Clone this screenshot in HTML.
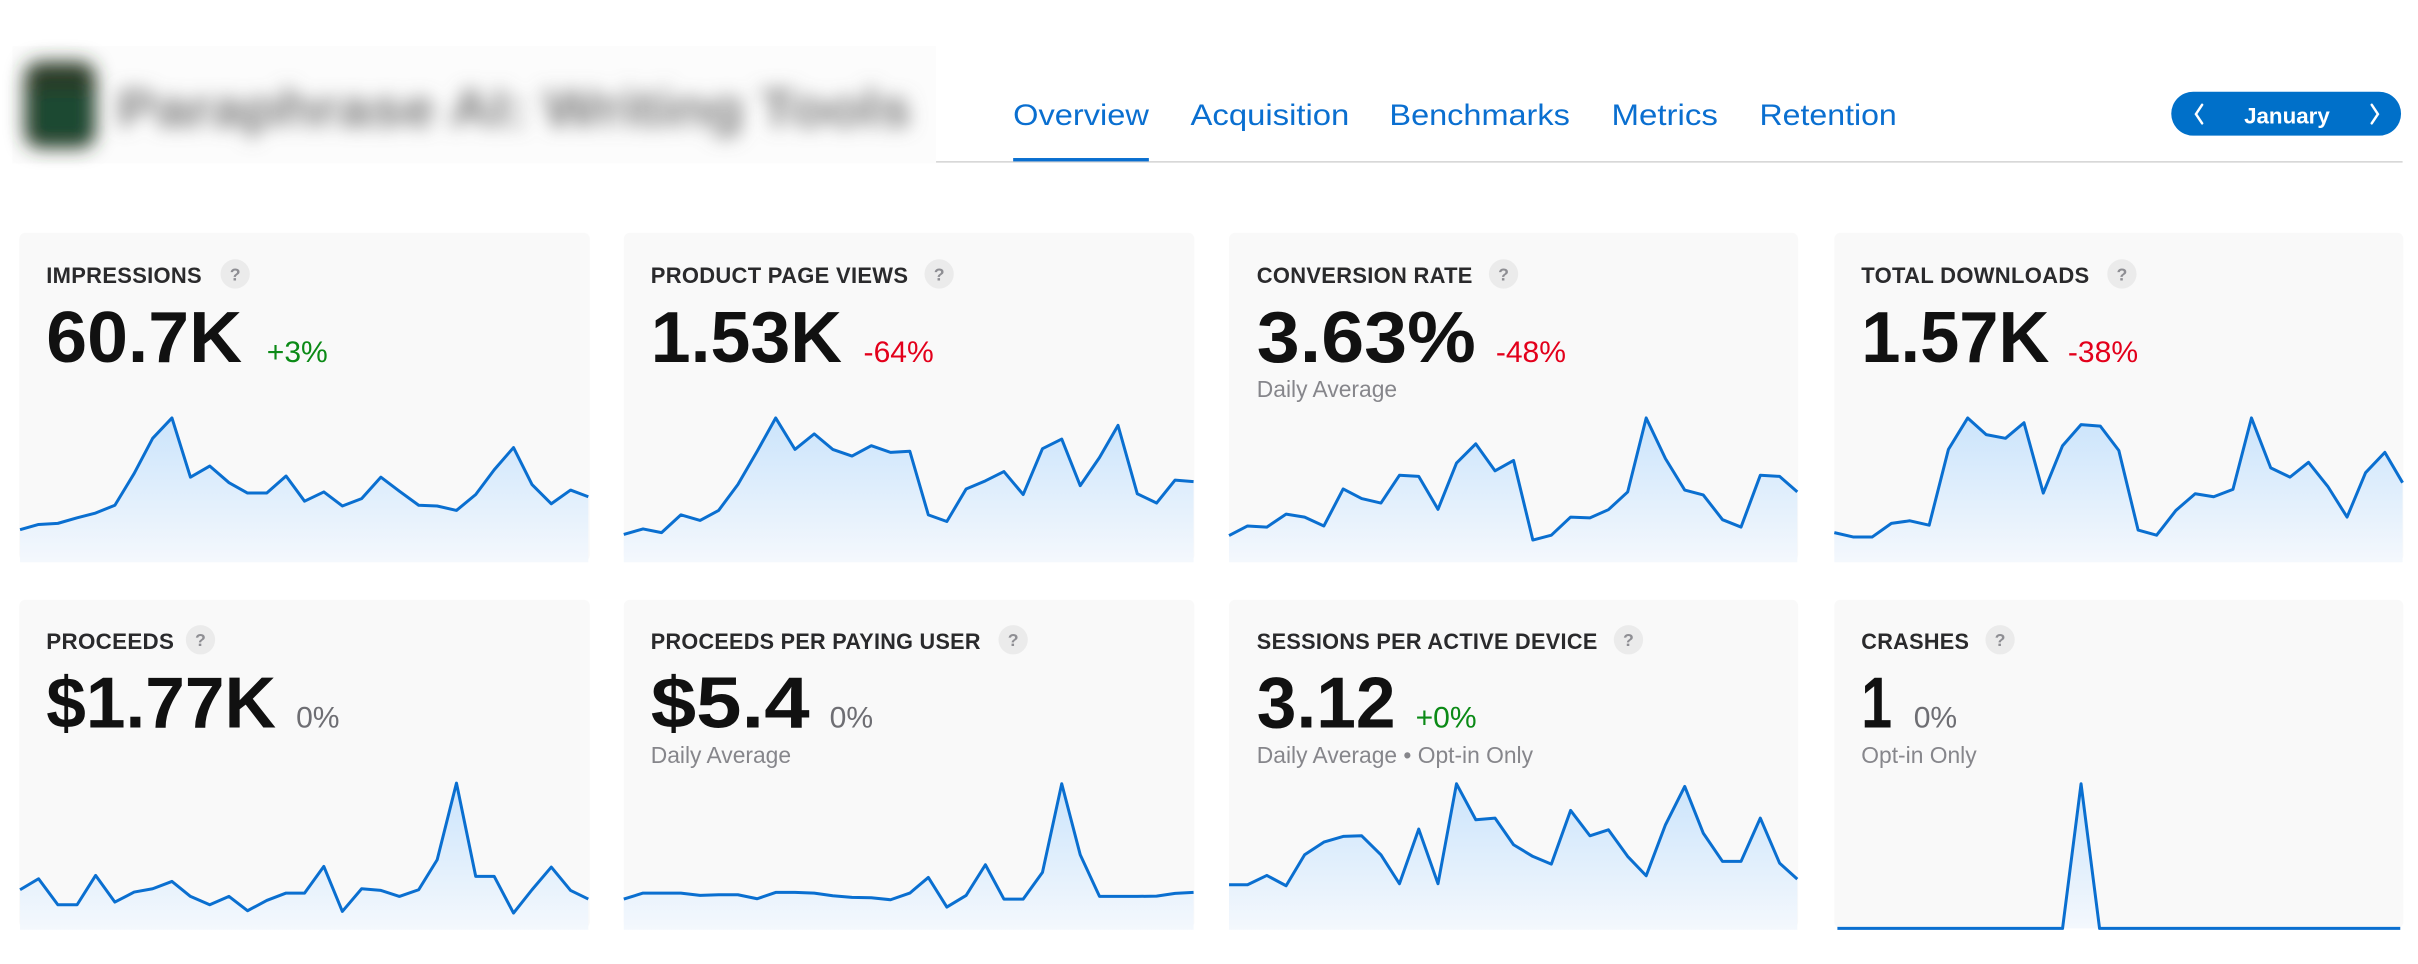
<!DOCTYPE html>
<html><head><meta charset="utf-8"><style>
html,body{margin:0;padding:0;background:#fff;width:2418px;height:964px;overflow:hidden}
svg{display:block}
text{font-family:"Liberation Sans",sans-serif}
</style></head><body>
<svg width="2418" height="964" viewBox="0 0 1568 625.3" preserveAspectRatio="none" xmlns="http://www.w3.org/2000/svg">
<defs>
<linearGradient id="g" x1="0" y1="0" x2="0" y2="1"><stop offset="0" stop-color="#cbe4fb"/><stop offset="1" stop-color="#f4f8fd"/></linearGradient>
<filter id="b" x="-10%" y="-40%" width="120%" height="180%"><feGaussianBlur stdDeviation="6"/></filter>
</defs>
<!-- header -->
<rect x="8" y="30" width="599" height="76" fill="#fcfcfc"/>
<g filter="url(#b)">
<rect x="16" y="40" width="46" height="56" rx="10" fill="#2c3a28"/>
<rect x="22" y="58" width="36" height="32" rx="6" fill="#1f4a30"/>
<text x="76" y="82" font-size="34" font-weight="bold" fill="#7a7a7a" textLength="515" lengthAdjust="spacingAndGlyphs">Paraphrase AI: Writing Tools</text>
</g>
<g font-size="19.5" fill="#0a6fd0">
<text x="657" y="81" textLength="88" lengthAdjust="spacingAndGlyphs">Overview</text>
<text x="772" y="81" textLength="103" lengthAdjust="spacingAndGlyphs">Acquisition</text>
<text x="901" y="81" textLength="117" lengthAdjust="spacingAndGlyphs">Benchmarks</text>
<text x="1045" y="81" textLength="69" lengthAdjust="spacingAndGlyphs">Metrics</text>
<text x="1141" y="81" textLength="89" lengthAdjust="spacingAndGlyphs">Retention</text>
</g>
<rect x="607" y="104.5" width="951" height="1" fill="#d4d4d4"/>
<rect x="657" y="102.5" width="88" height="2.2" fill="#0a6fd0"/>
<rect x="1408" y="59.5" width="149" height="28.5" rx="14.25" fill="#0070c9"/>
<text x="1483" y="80" font-size="14.5" font-weight="bold" fill="#fff" text-anchor="middle">January</text>
<path d="M1428 68 L1424 74 L1428 80 M1538 68 L1542 74 L1538 80" stroke="#fff" stroke-width="1.6" fill="none" stroke-linecap="round"/>

<!-- cards -->
<g fill="#f9f9f9">
<rect x="12.5" y="151" width="370" height="213" rx="4"/>
<rect x="404.5" y="151" width="370" height="213" rx="4"/>
<rect x="797" y="151" width="369" height="213" rx="4"/>
<rect x="1189.5" y="151" width="369" height="213" rx="4"/>
<rect x="12.5" y="389" width="370" height="213" rx="4"/>
<rect x="404.5" y="389" width="370" height="213" rx="4"/>
<rect x="797" y="389" width="369" height="213" rx="4"/>
<rect x="1189.5" y="389" width="369" height="213" rx="4"/>
</g>

<!-- labels -->
<g font-size="14.2" font-weight="bold" fill="#2a2a2c" letter-spacing="0.2">
<text x="30" y="183.5" textLength="101" lengthAdjust="spacingAndGlyphs">IMPRESSIONS</text>
<text x="422" y="183.5" textLength="167" lengthAdjust="spacingAndGlyphs">PRODUCT PAGE VIEWS</text>
<text x="815" y="183.5" textLength="140" lengthAdjust="spacingAndGlyphs">CONVERSION RATE</text>
<text x="1207" y="183.5" textLength="148" lengthAdjust="spacingAndGlyphs">TOTAL DOWNLOADS</text>
<text x="30" y="421" textLength="83" lengthAdjust="spacingAndGlyphs">PROCEEDS</text>
<text x="422" y="421" textLength="214" lengthAdjust="spacingAndGlyphs">PROCEEDS PER PAYING USER</text>
<text x="815" y="421" textLength="221" lengthAdjust="spacingAndGlyphs">SESSIONS PER ACTIVE DEVICE</text>
<text x="1207" y="421" textLength="70" lengthAdjust="spacingAndGlyphs">CRASHES</text>
</g>
<g fill="#ebebeb">
<circle cx="152.5" cy="177.7" r="9.5"/><circle cx="609" cy="177.7" r="9.5"/><circle cx="975" cy="177.7" r="9.5"/><circle cx="1376" cy="177.7" r="9.5"/>
<circle cx="130" cy="415" r="9.5"/><circle cx="657" cy="415" r="9.5"/><circle cx="1056" cy="415" r="9.5"/><circle cx="1297" cy="415" r="9.5"/>
</g>
<g font-size="11.5" font-weight="bold" fill="#8e8e93" text-anchor="middle">
<text x="152.5" y="181.8">?</text><text x="609" y="181.8">?</text><text x="975" y="181.8">?</text><text x="1376" y="181.8">?</text>
<text x="130" y="419.1">?</text><text x="657" y="419.1">?</text><text x="1056" y="419.1">?</text><text x="1297" y="419.1">?</text>
</g>

<!-- big numbers -->
<g font-size="47" font-weight="bold" fill="#111">
<text x="30" y="234.8" textLength="127" lengthAdjust="spacingAndGlyphs">60.7K</text>
<text x="422" y="234.8" textLength="124" lengthAdjust="spacingAndGlyphs">1.53K</text>
<text x="815" y="234.8" textLength="142" lengthAdjust="spacingAndGlyphs">3.63%</text>
<text x="1207" y="234.8" textLength="122" lengthAdjust="spacingAndGlyphs">1.57K</text>
<text x="30" y="472" textLength="149" lengthAdjust="spacingAndGlyphs">$1.77K</text>
<text x="422" y="472" textLength="103" lengthAdjust="spacingAndGlyphs">$5.4</text>
<text x="815" y="472" textLength="90" lengthAdjust="spacingAndGlyphs">3.12</text>
<text x="1207" y="472" textLength="20" lengthAdjust="spacingAndGlyphs">1</text>
</g>
<g font-size="19.5">
<text x="173" y="234.8" fill="#0b8a16">+3%</text>
<text x="560" y="234.8" fill="#e3001b">-64%</text>
<text x="970" y="234.8" fill="#e3001b">-48%</text>
<text x="1341" y="234.8" fill="#e3001b">-38%</text>
<text x="192" y="472" fill="#6e6e73">0%</text>
<text x="538" y="472" fill="#6e6e73">0%</text>
<text x="918" y="472" fill="#0b8a16">+0%</text>
<text x="1241" y="472" fill="#6e6e73">0%</text>
</g>
<g font-size="14.8" fill="#86868b">
<text x="815" y="257.5">Daily Average</text>
<text x="422" y="495">Daily Average</text>
<text x="815" y="495">Daily Average • Opt-in Only</text>
<text x="1207" y="495">Opt-in Only</text>
</g>

<g transform="scale(0.5,0.23992)">
<polygon fill="url(#g)" points="26,1520 26,1432 50,1418 75,1415 100,1400 124,1387 149,1366 174,1280 198,1185 223,1130 247,1290 272,1260 297,1305 321,1333 346,1333 371,1287 395,1355 420,1330 444,1368 469,1348 494,1290 518,1328 543,1366 567,1368 592,1380 617,1337 641,1270 666,1210 690,1310 715,1362 740,1325 763,1343 763,1520"/>
<polyline fill="none" stroke="#0a6fd0" stroke-width="3" vector-effect="non-scaling-stroke" stroke-linejoin="round" points="26,1432 50,1418 75,1415 100,1400 124,1387 149,1366 174,1280 198,1185 223,1130 247,1290 272,1260 297,1305 321,1333 346,1333 371,1287 395,1355 420,1330 444,1368 469,1348 494,1290 518,1328 543,1366 567,1368 592,1380 617,1337 641,1270 666,1210 690,1310 715,1362 740,1325 763,1343"/>
<polygon fill="url(#g)" points="809,1520 809,1445 834,1430 858,1440 883,1392 908,1407 932,1380 957,1310 982,1220 1006,1130 1031,1215 1056,1173 1080,1215 1105,1233 1130,1205 1155,1223 1180,1220 1204,1392 1228,1410 1253,1322 1278,1300 1302,1275 1327,1337 1352,1213 1377,1187 1401,1313 1426,1237 1450,1150 1475,1335 1500,1360 1524,1298 1548,1302 1548,1520"/>
<polyline fill="none" stroke="#0a6fd0" stroke-width="3" vector-effect="non-scaling-stroke" stroke-linejoin="round" points="809,1445 834,1430 858,1440 883,1392 908,1407 932,1380 957,1310 982,1220 1006,1130 1031,1215 1056,1173 1080,1215 1105,1233 1130,1205 1155,1223 1180,1220 1204,1392 1228,1410 1253,1322 1278,1300 1302,1275 1327,1337 1352,1213 1377,1187 1401,1313 1426,1237 1450,1150 1475,1335 1500,1360 1524,1298 1548,1302"/>
</g>
<g transform="translate(784,0) scale(0.5,0.23992)">
<polygon fill="url(#g)" points="26,1520 26,1448 50,1422 75,1425 100,1390 124,1398 149,1422 174,1322 198,1348 223,1360 247,1285 272,1288 297,1377 321,1252 346,1200 371,1273 395,1245 420,1460 444,1447 469,1398 494,1400 518,1378 543,1330 567,1130 592,1240 617,1325 641,1338 666,1405 690,1425 715,1285 740,1288 763,1330 763,1520"/>
<polyline fill="none" stroke="#0a6fd0" stroke-width="3" vector-effect="non-scaling-stroke" stroke-linejoin="round" points="26,1448 50,1422 75,1425 100,1390 124,1398 149,1422 174,1322 198,1348 223,1360 247,1285 272,1288 297,1377 321,1252 346,1200 371,1273 395,1245 420,1460 444,1447 469,1398 494,1400 518,1378 543,1330 567,1130 592,1240 617,1325 641,1338 666,1405 690,1425 715,1285 740,1288 763,1330"/>
<polygon fill="url(#g)" points="811,1520 811,1440 836,1452 860,1452 885,1415 909,1408 934,1420 959,1215 984,1130 1008,1175 1033,1185 1057,1143 1082,1333 1107,1205 1131,1148 1156,1152 1180,1218 1205,1433 1229,1447 1254,1380 1279,1335 1303,1343 1328,1323 1352,1130 1377,1265 1402,1290 1426,1250 1451,1315 1476,1398 1500,1278 1525,1223 1548,1305 1548,1520"/>
<polyline fill="none" stroke="#0a6fd0" stroke-width="3" vector-effect="non-scaling-stroke" stroke-linejoin="round" points="811,1440 836,1452 860,1452 885,1415 909,1408 934,1420 959,1215 984,1130 1008,1175 1033,1185 1057,1143 1082,1333 1107,1205 1131,1148 1156,1152 1180,1218 1205,1433 1229,1447 1254,1380 1279,1335 1303,1343 1328,1323 1352,1130 1377,1265 1402,1290 1426,1250 1451,1315 1476,1398 1500,1278 1525,1223 1548,1305"/>
</g>

<g transform="translate(0,376.1) scale(0.5,0.21617)">
<polygon fill="url(#g)" points="26,1050 26,930 50,897 75,975 100,975 124,887 149,967 174,937 198,927 223,905 247,950 272,975 297,950 321,993 346,962 371,940 395,940 420,860 444,995 469,927 494,932 518,950 543,930 567,840 592,610 617,890 641,890 666,1000 690,930 715,862 740,932 763,958 763,1050"/>
<polyline fill="none" stroke="#0a6fd0" stroke-width="3" vector-effect="non-scaling-stroke" stroke-linejoin="round" points="26,930 50,897 75,975 100,975 124,887 149,967 174,937 198,927 223,905 247,950 272,975 297,950 321,993 346,962 371,940 395,940 420,860 444,995 469,927 494,932 518,950 543,930 567,840 592,610 617,890 641,890 666,1000 690,930 715,862 740,932 763,958"/>
<polygon fill="url(#g)" points="809,1050 809,958 834,940 858,940 883,940 908,947 932,945 957,945 982,957 1006,938 1031,938 1056,940 1080,948 1105,953 1130,954 1155,960 1180,940 1204,893 1228,982 1253,947 1278,855 1302,958 1327,958 1352,878 1377,612 1401,825 1426,950 1450,950 1475,950 1500,949 1524,941 1548,938 1548,1050"/>
<polyline fill="none" stroke="#0a6fd0" stroke-width="3" vector-effect="non-scaling-stroke" stroke-linejoin="round" points="809,958 834,940 858,940 883,940 908,947 932,945 957,945 982,957 1006,938 1031,938 1056,940 1080,948 1105,953 1130,954 1155,960 1180,940 1204,893 1228,982 1253,947 1278,855 1302,958 1327,958 1352,878 1377,612 1401,825 1426,950 1450,950 1475,950 1500,949 1524,941 1548,938"/>
</g>
<g transform="translate(784,376.1) scale(0.5,0.21617)">
<polygon fill="url(#g)" points="26,1050 26,915 50,915 75,887 100,918 124,825 149,787 174,770 198,768 223,825 247,912 272,748 297,912 321,612 346,720 371,715 395,795 420,830 444,853 469,692 494,768 518,750 543,830 567,888 592,735 617,620 641,760 666,845 690,845 715,715 740,850 763,898 763,1050"/>
<polyline fill="none" stroke="#0a6fd0" stroke-width="3" vector-effect="non-scaling-stroke" stroke-linejoin="round" points="26,915 50,915 75,887 100,918 124,825 149,787 174,770 198,768 223,825 247,912 272,748 297,912 321,612 346,720 371,715 395,795 420,830 444,853 469,692 494,768 518,750 543,830 567,888 592,735 617,620 641,760 666,845 690,845 715,715 740,850 763,898"/>
<polygon fill="url(#g)" points="1107,1046 1131,612 1155,1046"/>
<polyline fill="none" stroke="#0a6fd0" stroke-width="3" vector-effect="non-scaling-stroke" stroke-linejoin="round" points="815,1046 1107,1046 1131,612 1155,1046 1545,1046"/>
</g>
</svg>
</body></html>
